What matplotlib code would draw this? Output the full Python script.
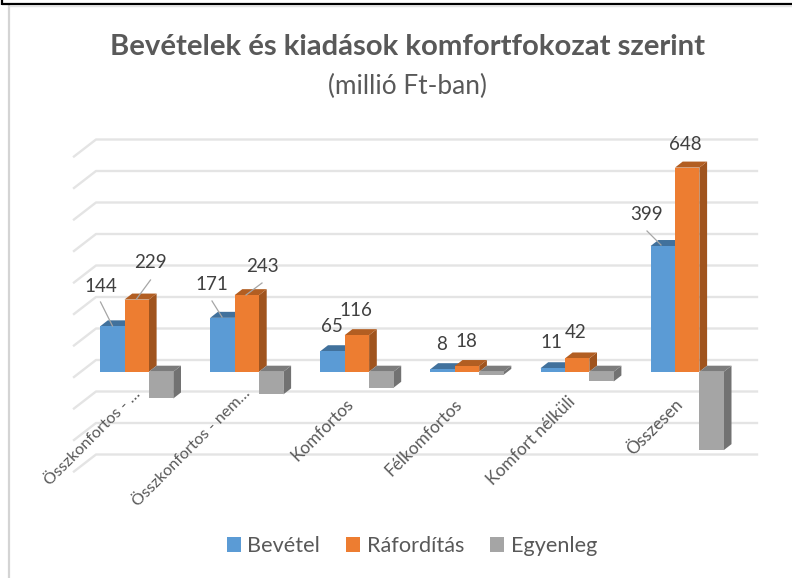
import matplotlib
matplotlib.use("Agg")
import matplotlib.pyplot as plt
from matplotlib.patches import Polygon

plt.rcParams['font.family'] = ['Lato', 'DejaVu Sans']

# ---- data ----
categories = ["Összkonfortos - …", "Összkonfortos - nem…", "Komfortos",
              "Félkomfortos", "Komfort nélküli", "Összesen"]
bevetel = [144, 171, 65, 8, 11, 399]
raforditas = [229, 243, 116, 18, 42, 648]
egyenleg = [-85, -72, -51, -10, -31, -249]
series_names = ["Bevétel", "Ráfordítás", "Egyenleg"]
grid_values = list(range(-300, 800, 100))

# ---- layout (pixels of the 792x578 canvas) ----
W, H = 792, 578
X0, PX_X = 136.7, 110.1      # centre of first group, pixels per category
Y0, PX_Y = 371.7, 0.315      # zero line of bar fronts, pixels per unit
BAR_W = 24.4 / PX_X
DEPTH_X, DEPTH_Y = 7.7 / PX_X, 6.0 / PX_Y

front = ["#5B9BD5", "#ED7D31", "#A5A5A5"]
side = ["#41719C", "#A0541E", "#727272"]
top = ["#41719C", "#B25E22", "#7C7C7C"]

fig = plt.figure(figsize=(W / 100, H / 100), dpi=100, facecolor="white")
ax = fig.add_axes([0, 0, 1, 1])
ax.set_xlim(-X0 / PX_X, (W - X0) / PX_X)
ax.set_ylim(-(H - Y0) / PX_Y, Y0 / PX_Y)
ax.axis("off")


def px(x):
    return (x - X0) / PX_X


def py(y):
    return (Y0 - y) / PX_Y


def val_back_shift():
    return 11.7 / PX_Y


# frame
ax.plot([px(9), px(9)], [py(5), py(578)], color="#d4d4d4", lw=1.6, zorder=1, solid_capstyle="butt")
ax.plot([px(9), px(792)], [py(6), py(6)], color="#e4e4e4", lw=1.0, zorder=1, solid_capstyle="butt")
ax.plot([px(2), px(792)], [py(4), py(4)], color="black", lw=1.6, zorder=2, solid_capstyle="butt")
ax.plot([px(2), px(2)], [py(0), py(5)], color="black", lw=1.6, zorder=2, solid_capstyle="butt")

# gridlines on the floor/back wall
for v in grid_values:
    yb = v + val_back_shift()
    ax.plot([px(74), px(96), px(757)], [yb - 17 / PX_Y, yb, yb],
            color="#e4e4e4", lw=1.7, zorder=2, solid_joinstyle="round")

# bars
handles = []
for s, vals in enumerate([bevetel, raforditas, egyenleg]):
    xs = [i + (s - 1) * BAR_W for i in range(len(categories))]
    z = 3 + s
    bars = ax.bar(xs, vals, width=BAR_W, color=front[s], linewidth=0, zorder=z + 0.2,
                  label=series_names[s])
    handles.append(bars)
    for x, v in zip(xs, vals):
        xl, xr = x - BAR_W / 2, x + BAR_W / 2
        hi = max(v, 0)
        lo = min(v, 0)
        ax.add_patch(Polygon([(xr, lo), (xr + DEPTH_X, lo + DEPTH_Y),
                              (xr + DEPTH_X, hi + DEPTH_Y), (xr, hi)],
                             closed=True, fc=side[s], ec="none", zorder=z + 0.1))
        ax.add_patch(Polygon([(xl, hi), (xl + DEPTH_X, hi + DEPTH_Y),
                              (xr + DEPTH_X, hi + DEPTH_Y), (xr, hi)],
                             closed=True, fc=top[s], ec="none", zorder=z + 0.1))

# data labels: (series, category, label centre px, leader start px, leader end px)
label_spots = [
    (bevetel, 0, (101, 287), (100.5, 302), (112.5, 326)),
    (raforditas, 0, (150, 263), (150.5, 280), (136.5, 299)),
    (bevetel, 1, (212, 285), (212, 301), (222, 317)),
    (raforditas, 1, (262, 266), (262, 283), (246, 295)),
    (bevetel, 2, (331.5, 327), None, None),
    (raforditas, 2, (356, 311), None, None),
    (bevetel, 3, (441.7, 344), None, None),
    (raforditas, 3, (466, 341.5), None, None),
    (bevetel, 4, (551.7, 343), None, None),
    (raforditas, 4, (575.7, 333), None, None),
    (bevetel, 5, (647, 214), (647, 231), (661, 245)),
    (raforditas, 5, (685.7, 144), None, None),
]
for vals, i, c, a, b in label_spots:
    ax.text(px(c[0]), py(c[1]), str(vals[i]), ha="center", va="center",
            fontsize=13.5, color="#404040", zorder=10)
    if a is not None:
        ax.plot([px(a[0]), px(b[0])], [py(a[1]), py(b[1])], color="#a6a6a6", lw=0.9, zorder=9)

# category labels (upper-right end of the rotated text)
label_ends = [(133, 387), (243, 386), (345, 396), (454, 396), (567, 394), (675, 396)]
label_sizes = [11.6, 11.6, 12.4, 12.4, 12.4, 12.4]
for name, (ex, ey), fs in zip(categories, label_ends, label_sizes):
    ax.text(px(ex), py(ey), name, rotation=45, rotation_mode="anchor", ha="right", va="top",
            fontsize=fs, color="#595959", zorder=10)

# titles
ax.text(px(407), py(47), "Bevételek és kiadások komfortfokozat szerint", ha="center", va="center",
        fontsize=21.1, fontweight="bold", color="#595959", zorder=10)
ax.text(px(407), py(86), "(millió Ft-ban)", ha="center", va="center",
        fontsize=18.9, color="#595959", zorder=10)

# legend
fig.legend(handles=handles, labels=series_names, ncol=3, frameon=False, loc="center",
           bbox_to_anchor=(412 / W, 1 - 546 / H), fontsize=15.6, labelcolor="#595959",
           handlelength=0.65, handleheight=0.65, handletextpad=0.3, columnspacing=1.2,
           borderpad=0)

fig.savefig("out.png", dpi=100)
